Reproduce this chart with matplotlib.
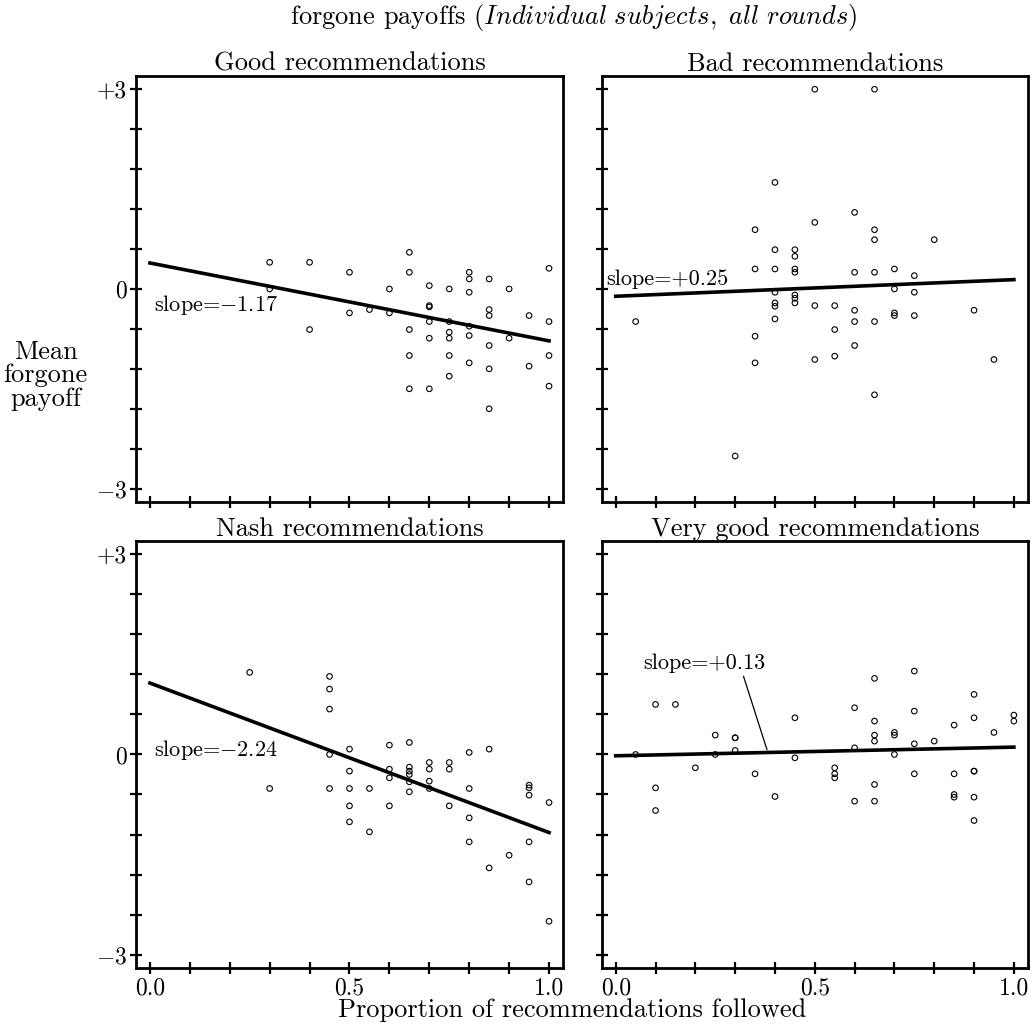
import numpy as np
import matplotlib
matplotlib.use("Agg")
import matplotlib.pyplot as plt

plt.rcParams['font.family'] = ['cmr10', 'DejaVu Serif']
plt.rcParams['mathtext.fontset'] = 'cm'

# Good recommendations
good_x = [0.30, 0.30, 0.40, 0.40, 0.50, 0.50, 0.55, 0.60, 0.60,
          0.65, 0.65, 0.65, 0.65, 0.65,
          0.70, 0.70, 0.70, 0.70, 0.70, 0.70,
          0.75, 0.75, 0.75, 0.75, 0.75, 0.75,
          0.80, 0.80, 0.80, 0.80, 0.80, 0.80,
          0.85, 0.85, 0.85, 0.85, 0.85, 0.85,
          0.90, 0.90, 0.95, 0.95, 1.0, 1.0, 1.0, 1.0]
good_y = [0.40, 0.0, 0.40, -0.61, 0.25, -0.36, -0.31, 0.0, -0.36,
          0.55, 0.25, -0.61, -1.0, -1.5,
          0.05, -0.25, -0.27, -0.49, -0.74, -1.5,
          0.0, -0.49, -0.65, -0.74, -1.0, -1.31,
          0.25, 0.15, -0.05, -0.56, -0.70, -1.11,
          0.15, -0.31, -0.40, -0.85, -1.2, -1.8,
          0.0, -0.74, -0.40, -1.16, 0.31, -0.49, -1.0, -1.46]

# Bad recommendations
bad_x = [0.05, 0.30,
         0.35, 0.35, 0.35, 0.35,
         0.40, 0.40, 0.40, 0.40, 0.40, 0.40, 0.40,
         0.45, 0.45, 0.45, 0.45, 0.45, 0.45, 0.45,
         0.50, 0.50, 0.50, 0.50,
         0.55, 0.55, 0.55,
         0.60, 0.60, 0.60, 0.60, 0.60,
         0.65, 0.65, 0.65, 0.65, 0.65, 0.65,
         0.70, 0.70, 0.70, 0.70,
         0.75, 0.75, 0.75,
         0.80, 0.90, 0.95]
bad_y = [-0.49, -2.51,
         0.89, 0.30, -0.71, -1.11,
         1.60, 0.59, 0.30, -0.05, -0.21, -0.26, -0.45,
         0.59, 0.49, 0.30, 0.25, -0.09, -0.14, -0.21,
         3.0, 1.0, -0.25, -1.06,
         -0.25, -0.61, -1.01,
         1.15, 0.25, -0.32, -0.49, -0.85,
         3.0, 0.89, 0.74, 0.25, -0.49, -1.59,
         0.30, 0.0, -0.36, -0.40,
         0.20, -0.05, -0.40,
         0.74, -0.32, -1.06]

# Nash recommendations
nash_x = [0.25, 0.30,
          0.45, 0.45, 0.45, 0.45, 0.45,
          0.50, 0.50, 0.50, 0.50, 0.50,
          0.55, 0.55,
          0.60, 0.60, 0.60, 0.60,
          0.65, 0.65, 0.65, 0.65, 0.65, 0.65,
          0.70, 0.70, 0.70, 0.70,
          0.75, 0.75, 0.75,
          0.80, 0.80, 0.80, 0.80,
          0.85, 0.85, 0.90,
          0.95, 0.95, 0.95, 0.95, 0.95,
          1.0, 1.0]
nash_y = [1.23, -0.51,
          1.17, 0.98, 0.68, 0.0, -0.51,
          0.08, -0.25, -0.51, -0.77, -1.01,
          -0.51, -1.16,
          0.14, -0.22, -0.35, -0.77,
          0.18, -0.19, -0.25, -0.30, -0.41, -0.56,
          -0.12, -0.22, -0.40, -0.51,
          -0.12, -0.22, -0.77,
          0.03, -0.51, -0.95, -1.31,
          0.08, -1.70, -1.51,
          -0.46, -0.50, -0.61, -1.31, -1.91,
          -0.72, -2.50]

# Very good recommendations
vgood_x = [0.05, 0.10, 0.10, 0.10, 0.15, 0.20,
           0.25, 0.25, 0.30, 0.30, 0.30, 0.35, 0.40,
           0.45, 0.45, 0.55, 0.55, 0.55,
           0.60, 0.60, 0.60,
           0.65, 0.65, 0.65, 0.65, 0.65, 0.65,
           0.70, 0.70, 0.70,
           0.75, 0.75, 0.75, 0.75, 0.80,
           0.85, 0.85, 0.85, 0.85,
           0.90, 0.90, 0.90, 0.90, 0.90, 0.90,
           0.95, 1.0, 1.0]
vgood_y = [0.0, 0.75, -0.50, -0.84, 0.75, -0.20,
           0.29, 0.0, 0.25, 0.25, 0.06, -0.29, -0.63,
           0.55, -0.05, -0.20, -0.29, -0.35,
           0.70, 0.10, -0.70,
           1.14, 0.50, 0.29, 0.20, -0.45, -0.70,
           0.33, 0.29, 0.0,
           1.25, 0.65, 0.16, -0.29, 0.20,
           0.44, -0.29, -0.60, -0.64,
           0.90, 0.55, -0.25, -0.25, -0.64, -0.99,
           0.33, 0.59, 0.50]

titles = ["Good recommendations", "Bad recommendations",
          "Nash recommendations", "Very good recommendations"]
intercepts = [0.39, -0.11, 1.07, -0.02]
slopes = [-1.17, 0.25, -2.24, 0.13]
slope_labels = ["slope=$-$1.17", "slope=+0.25", "slope=$-$2.24", "slope=+0.13"]
label_pos = [(0.01, -0.24), (-0.025, 0.15), (0.01, 0.06), (0.07, 1.36)]

xs = [good_x, bad_x, nash_x, vgood_x]
ys = [good_y, bad_y, nash_y, vgood_y]

fig = plt.figure(figsize=(10.34, 10.29), dpi=100)
rects = [[0.1315, 0.5122, 0.413, 0.414], [0.582, 0.5122, 0.412, 0.414],
         [0.1315, 0.0593, 0.413, 0.415], [0.582, 0.0593, 0.412, 0.415]]

for i in range(4):
    ax = fig.add_axes(rects[i])
    ax.scatter(xs[i], ys[i], s=16, facecolors='none', edgecolors='black', linewidths=0.8, zorder=3)
    lx = np.array([0.0, 1.0])
    ax.plot(lx, intercepts[i] + slopes[i] * lx, color='black', lw=2.6, zorder=2)
    if i < 3:
        ax.text(label_pos[i][0], label_pos[i][1], slope_labels[i], fontsize=16, ha='left', va='center')
    else:
        ax.annotate(slope_labels[i], xy=(0.38, 0.07), xytext=label_pos[i], fontsize=16,
                    ha='left', va='center',
                    arrowprops=dict(arrowstyle='-', lw=0.9, color='black', shrinkA=0, shrinkB=0,
                                    relpos=(0.81, 0.0)))
    ax.set_xlim(-0.035, 1.035)
    ax.set_ylim(-3.2, 3.2)
    ax.set_xticks(np.arange(0, 11) / 10)
    ax.set_yticks(np.arange(-5, 6) * 0.6)
    if i >= 2:
        ax.set_xticklabels(["0.0", "", "", "", "", "0.5", "", "", "", "", "1.0"])
    else:
        ax.set_xticklabels([])
    if i % 2 == 0:
        ax.set_yticklabels(["$-$3", "", "", "", "", "0", "", "", "", "", "+3"])
    else:
        ax.set_yticklabels([])
    ax.tick_params(direction='inout', length=9, width=1.6, labelsize=17, pad=2,
                   top=False, right=False)
    for sp in ax.spines.values():
        sp.set_linewidth(2.0)
    ax.set_title(titles[i], fontsize=19, pad=3)

fig.text(0.555, 0.983, "forgone payoffs " + r"$\mathit{(Individual\ subjects,\ all\ rounds)}$",
         fontsize=19, ha='center', va='center')
fig.text(0.044, 0.635, "Mean\nforgone\npayoff", fontsize=19, ha='center', va='center',
         linespacing=1.0)
fig.text(0.553, 0.018, "Proportion of recommendations followed", fontsize=19,
         ha='center', va='center')

fig.savefig("out.png", dpi=100)
